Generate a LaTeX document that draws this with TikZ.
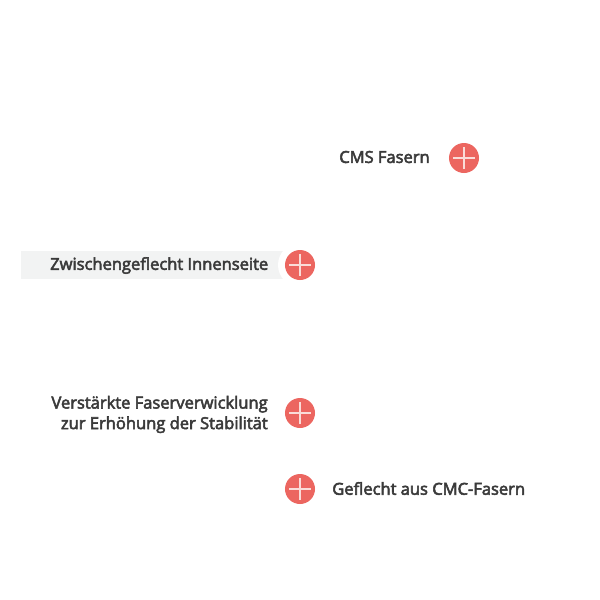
\documentclass[tikz,border=0pt]{standalone}
\usepackage{fontspec}
\setmainfont{Open Sans}
\usepackage{xcolor}
\usetikzlibrary{
  calc,
  positioning
}
\definecolor{fillA}{RGB}{236, 102,  96}
\definecolor{fillB}{RGB}{242, 243, 243}
\definecolor{txtclr}{RGB}{58, 58, 58}
\definecolor{plusclr}{RGB}{250, 220, 216}
\newfontfamily\labfont[FakeBold=3.2]{Open Sans}
\tikzset{
  % Markierungen
  marker/.style   = {circle, fill=fillA, minimum size=0.75cm, inner sep=0pt},
  plusline/.style = {draw=plusclr, line width=0.8pt},
  ringwhite/.style= {circle, fill=white, minimum size=1.1cm, inner sep=0pt},
  % Beschriftungen
  lab/.style      = {font=\labfont\fontsize{11.75}{14.6}\selectfont, text=txtclr, inner sep=0pt, align=right},
  labband/.style  = {fill=fillB, inner sep=0pt},
}
\newcommand{\plusmark}[2]{
  \node[marker] (#1) at (#2) {};
  \draw[plusline] ($(#1)+(-11,0)$) -- ($(#1)+(11,0)$);
  \draw[plusline] ($(#1)+(0,-11)$) -- ($(#1)+(0,11)$);
}
\begin{document}
\begin{tikzpicture}[x=0.025cm,y=-0.025cm]
  \useasboundingbox (0,0) rectangle (600,600);
  \fill[white] (0,0) rectangle (600,600);
  % Band hinter der Beschriftung
  \fill[labband] (21,251) rectangle (285,279);
  \node[ringwhite] (ringB) at (300,265) {};
  % Markierungen
  \plusmark{markA}{464,158}
  \plusmark{markB}{300,265}
  \plusmark{markC}{300,413}
  \plusmark{markD}{300,489}
  % Texte
  \node[lab, anchor=east] (labA) at (430,157) {CMS Fasern};
  \node[lab, anchor=east] (labB) at (268.5,265.5) {Zwischengeflecht Innenseite};
  \node[lab, anchor=east] (labC) at (268,414.5) {Verstärkte Faserverwicklung\\zur Erhöhung der Stabilität};
  \node[lab, anchor=west] (labD) at (332,488.5) {Geflecht aus CMC-Fasern};
\end{tikzpicture}
\end{document}
